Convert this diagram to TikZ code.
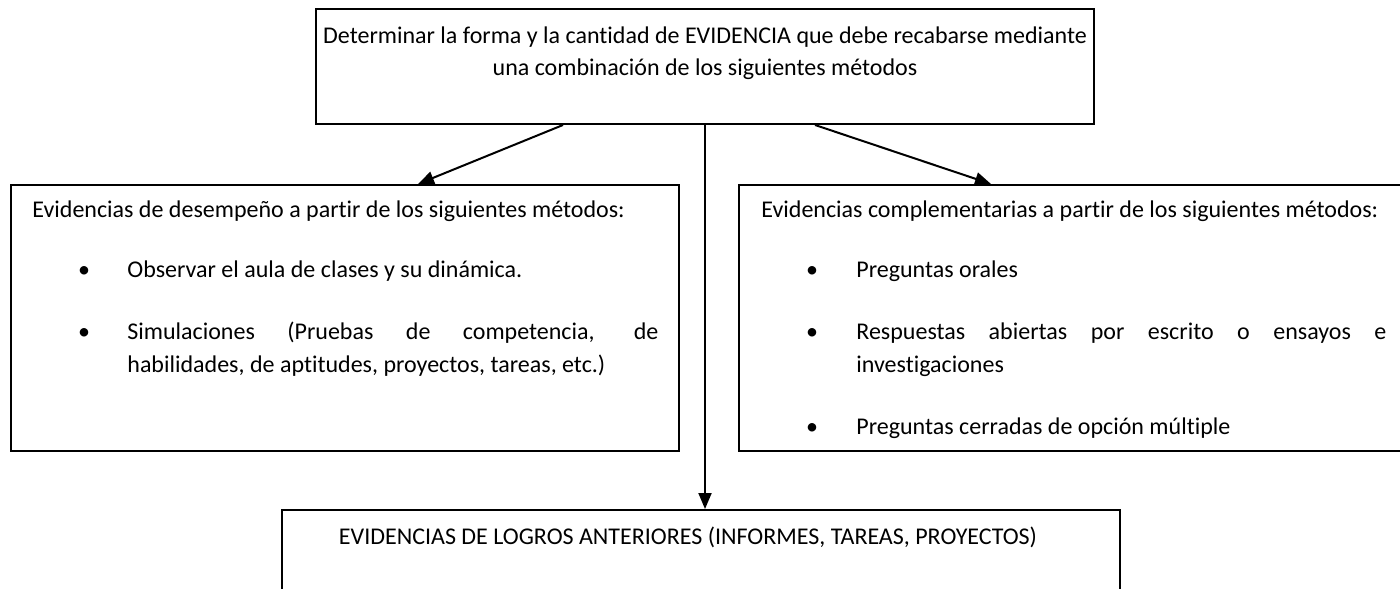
\documentclass[tikz,border=0pt]{standalone}
\usepackage{fontspec}
\setmainfont[Ligatures={NoCommon}]{Carlito}
\usetikzlibrary{arrows.meta,fit}
\begin{document}
\begin{tikzpicture}[x=0.5pt,y=-0.5pt,
  box/.style={draw, line width=1pt, inner sep=0pt},
  txt/.style={inner sep=0pt, anchor=mid west, font=\fontsize{12}{16.5}\selectfont},
  ctxt/.style={inner sep=0pt, anchor=mid, font=\fontsize{12}{16.5}\selectfont},
  dot/.style={inner sep=0pt, anchor=mid, font=\fontsize{12}{16.5}\selectfont},
  arr/.style={-{Triangle[length=8pt,width=6.5pt]}, line width=1pt}]
\useasboundingbox (0,0) rectangle (1400,588);
\clip (0,0) rectangle (1400,588);

% top box
\node[box, fit={(316,9)(1094,124)}] (top) {};
\node[ctxt] (t1) at (705,39) {Determinar la forma y la cantidad de EVIDENCIA que debe recabarse mediante};
\node[ctxt] (t2) at (705,71) {una combinación de los siguientes métodos};

% left box
\node[box, fit={(11,185)(679,451)}] (left) {};
\node[txt] (lh) at (32,213) {Evidencias de desempeño a partir de los siguientes métodos:};
\node[dot] (lb1) at (84,273) {\textbullet};
\node[txt] (lb1t) at (127,273) {Observar el aula de clases y su dinámica.};
\node[dot] (lb2) at (84,335) {\textbullet};
\node[txt] (lb2a) at (127,335) {\makebox[265.5pt][s]{Simulaciones (Pruebas de competencia, de}};
\node[txt] (lb2b) at (127,368) {habilidades, de aptitudes, proyectos, tareas, etc.)};

% right box
\node[box, fit={(739,185)(1420,451)}] (right) {};
\node[txt] (rh) at (761,213) {Evidencias complementarias a partir de los siguientes métodos:};
\node[dot] (rb1) at (812,273) {\textbullet};
\node[txt] (rb1t) at (856,273) {Preguntas orales};
\node[dot] (rb2) at (812,335) {\textbullet};
\node[txt] (rb2a) at (856,335) {\makebox[265pt][s]{Respuestas abiertas por escrito o ensayos e}};
\node[txt] (rb2b) at (856,368) {investigaciones};
\node[dot] (rb3) at (812,430) {\textbullet};
\node[txt] (rb3t) at (856,430) {Preguntas cerradas de opción múltiple};

% bottom box
\node[box, fit={(282,510)(1120,620)}] (bottom) {};
\node[ctxt] (bt) at (688,540) {EVIDENCIAS DE LOGROS ANTERIORES (INFORMES, TAREAS, PROYECTOS)};

% connectors
\draw[arr] (top.south -| 563,0) -- (left.north -| 418,0);
\draw[arr] (top.south -| 815,0) -- (right.north -| 991,0);
\draw[arr] (top.south -| 705,0) -- (bottom.north -| 705,0);
\end{tikzpicture}
\end{document}
